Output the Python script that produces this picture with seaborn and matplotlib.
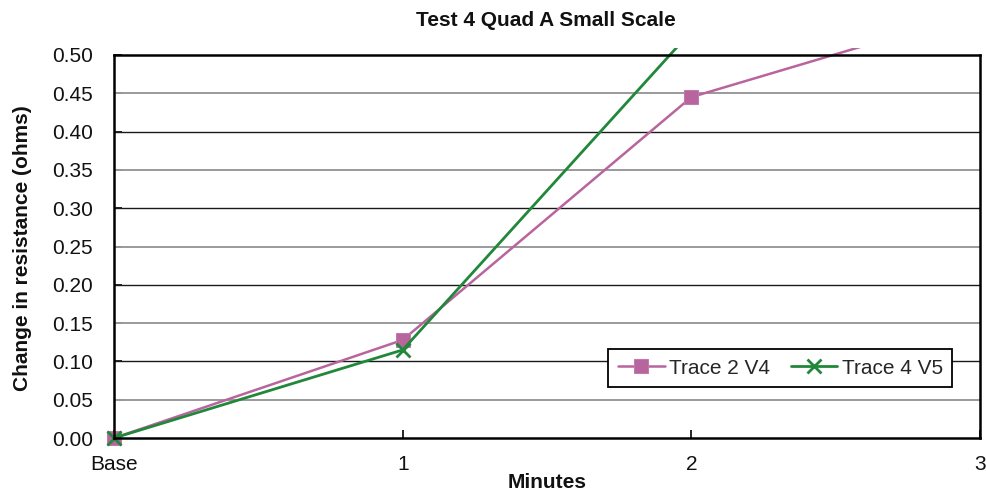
import numpy as np
import pandas as pd
import matplotlib
matplotlib.use("Agg")
import matplotlib.pyplot as plt
import matplotlib.patches as mpatches
import seaborn as sns

categories = ["Base", "1", "2", "3"]
trace2_v4 = [0.0, 0.128, 0.445, 0.557]
trace4_v5 = [0.0, 0.115, 0.531, np.nan]
y_ticks = [0.00, 0.05, 0.10, 0.15, 0.20, 0.25, 0.30, 0.35, 0.40, 0.45, 0.50]
title = "Test 4 Quad A Small Scale"
x_label = "Minutes"
y_label = "Change in resistance (ohms)"

sns.set_theme(style="white")
plt.rcParams['font.family'] = ['Liberation Sans', 'DejaVu Sans']

pink = "#B8659E"
green = "#21873A"

df = pd.DataFrame({"x": np.arange(len(categories)),
                   "Trace 2 V4": trace2_v4,
                   "Trace 4 V5": trace4_v5})

fig = plt.figure(figsize=(9.87, 4.99), dpi=100)
ax = fig.add_axes([0.1155, 0.1222, 0.993 - 0.1155, 0.8898 - 0.1222])

# gridlines
for i, t in enumerate(y_ticks[1:-1], start=1):
    ax.axhline(t, color="#1a1a1a" if i % 2 == 0 else "#9a9a9a",
               lw=1.0 if i % 2 == 0 else 1.4, zorder=1)

sns.lineplot(data=df, x="x", y="Trace 2 V4", ax=ax, color=pink, lw=1.8,
             marker="s", markersize=10, markeredgecolor="#C27AAE",
             label="Trace 2 V4", zorder=3)
sns.lineplot(data=df, x="x", y="Trace 4 V5", ax=ax, color=green, lw=2.0,
             marker="x", markersize=10, markeredgewidth=2.0, markeredgecolor=green,
             label="Trace 4 V5", zorder=4)

ax.set_xlim(0, 3)
ax.set_ylim(0, 0.5)

clip = mpatches.Rectangle((-0.1, -0.05), 3.2, 0.559, transform=ax.transData,
                          fill=False, visible=False)
ax.add_patch(clip)
for ln in ax.get_lines():
    if ln.get_marker() in ("s", "x"):
        ln.set_clip_on(True)
        ln.set_clip_path(clip)

ax.set_xticks(range(len(categories)))
ax.set_xticklabels(categories)
ax.set_yticks(y_ticks)
ax.set_yticklabels([f"{v:.2f}" for v in y_ticks])
ax.tick_params(axis="both", direction="in", length=6, width=1.2, color="black",
               labelsize=15, labelcolor="#111111", left=True, bottom=True)
ax.tick_params(axis="x", pad=12)
ax.tick_params(axis="y", pad=15)

for s in ax.spines.values():
    s.set_visible(True)
    s.set_color("black")
    s.set_linewidth(1.8)
    s.set_zorder(5)

ax.set_xlabel(x_label, fontsize=15, fontweight="bold", color="#111111")
ax.set_ylabel(y_label, fontsize=15, fontweight="bold", color="#111111")
ax.xaxis.set_label_coords(0.5, -0.092)
ax.yaxis.set_label_coords(-0.095, 0.497)
fig.text(546 / 987, 1 - 20 / 499, title, ha="center", va="center", fontsize=15,
         fontweight="bold", color="#111111")

leg = ax.legend(loc="lower right", bbox_to_anchor=(0.9677, 0.133), ncol=2,
                fontsize=15, frameon=True, fancybox=False, framealpha=1,
                edgecolor="black", handlelength=2.25, handletextpad=0.2,
                columnspacing=1.0, borderpad=0.45, borderaxespad=0)
leg.get_frame().set_linewidth(1.3)
leg.set_zorder(6)

fig.savefig("out.png", dpi=100)
